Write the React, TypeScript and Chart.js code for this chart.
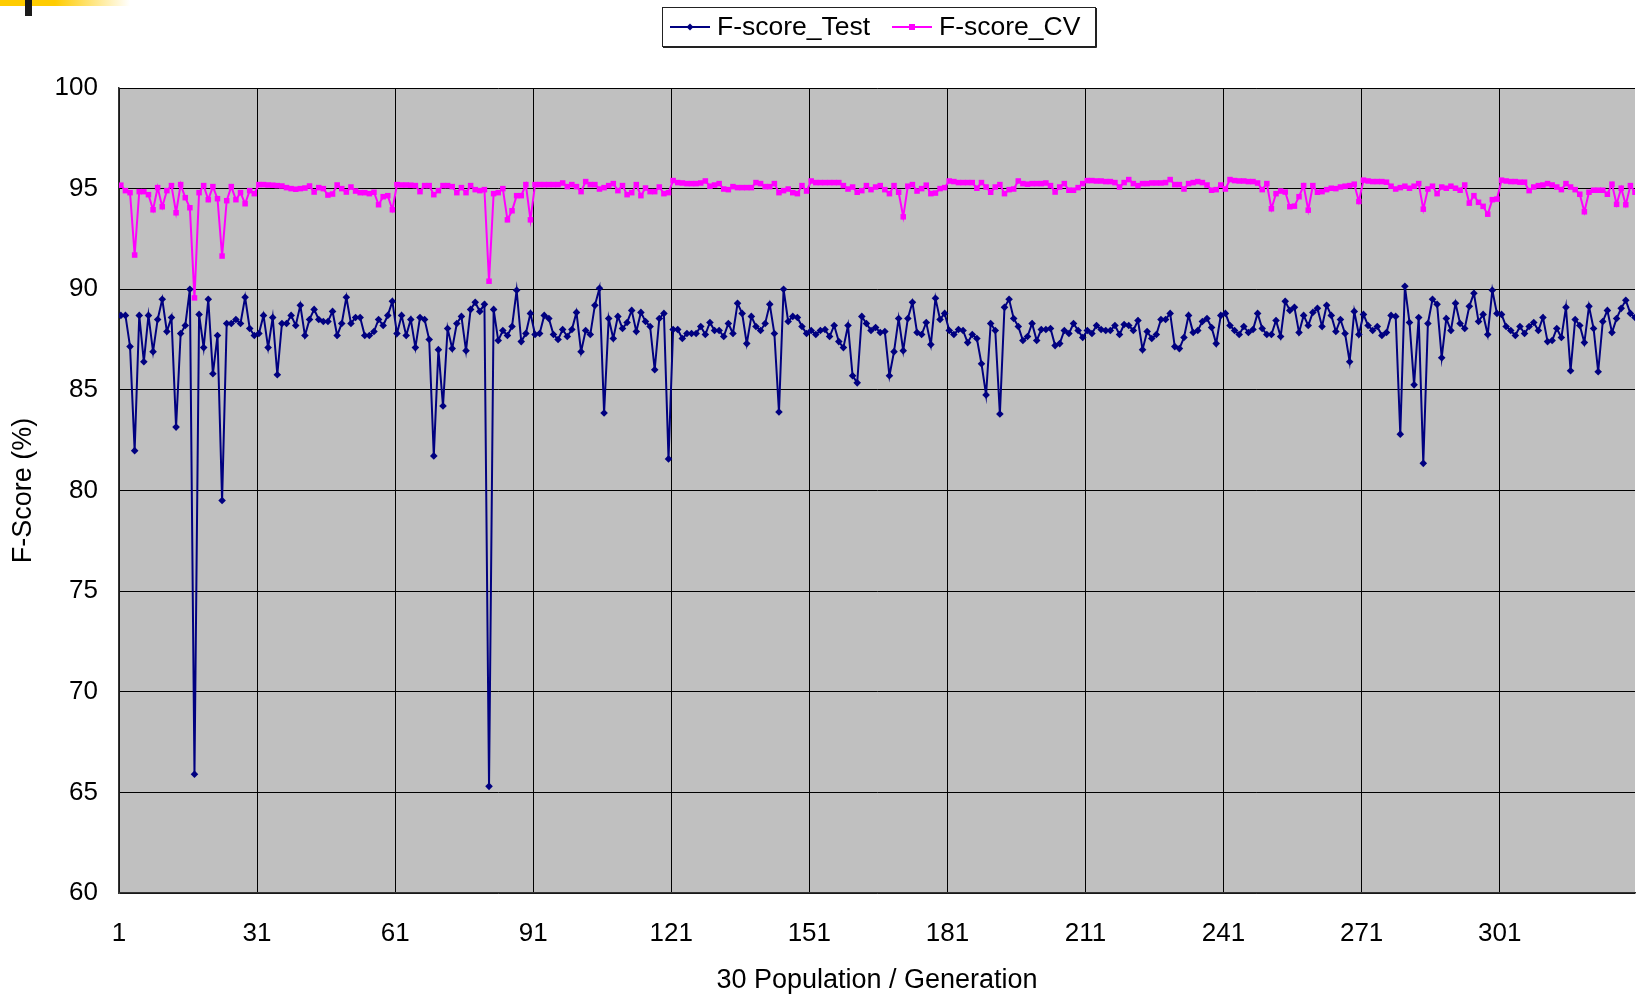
import { useEffect, useRef } from 'react';
import { Chart, registerables } from 'chart.js';

Chart.register(...registerables);

const FONT = '"Liberation Sans", Arial, Helvetica, sans-serif';

const seriesNames = ['F-score_Test', 'F-score_CV'];
const xTickValues = [1, 31, 61, 91, 121, 151, 181, 211, 241, 271, 301];
const yTickValues = [60, 65, 70, 75, 80, 85, 90, 95, 100];
const xTitle = '30 Population / Generation';
const yTitle = 'F-Score (%)';

const fScoreTest = [
  88.7, 88.7, 87.15, 81.98, 88.7, 86.4, 88.7, 86.9, 88.5, 89.5,
  87.9, 88.6, 83.15, 87.8, 88.2, 90.0, 65.9, 88.75, 87.1, 89.5,
  85.8, 87.7, 79.5, 88.3, 88.3, 88.5, 88.3, 89.6, 88.05, 87.7,
  87.8, 88.7, 87.1, 88.6, 85.75, 88.3, 88.3, 88.7, 88.2, 89.2,
  87.7, 88.5, 89.0, 88.5, 88.4, 88.4, 88.9, 87.7, 88.3, 89.6,
  88.3, 88.6, 88.6, 87.7, 87.7, 87.9, 88.5, 88.2, 88.7, 89.4,
  87.8, 88.7, 87.7, 88.5, 87.1, 88.6, 88.5, 87.5, 81.72, 87.0,
  84.2, 88.05, 87.05, 88.3, 88.65, 86.95, 89.0, 89.35, 88.9, 89.25,
  65.3, 89.0, 87.45, 87.95, 87.7, 88.15, 89.95, 87.4, 87.8, 88.8,
  87.75, 87.8, 88.7, 88.55, 87.75, 87.5, 88.0, 87.65, 88.0, 88.85,
  86.9, 87.95, 87.75, 89.2, 90.05, 83.85, 88.55, 87.55, 88.65, 88.05,
  88.35, 88.95, 87.9, 88.85, 88.4, 88.15, 86.0, 88.55, 88.8, 81.57,
  88.0, 88.0, 87.55, 87.8, 87.8, 87.8, 88.15, 87.75, 88.35, 87.95,
  87.95, 87.65, 88.3, 87.8, 89.3, 88.8, 87.3, 88.65, 88.15, 87.95,
  88.3, 89.25, 87.8, 83.9, 90.0, 88.4, 88.65, 88.6, 88.15, 87.8,
  87.95, 87.75, 87.95, 88.0, 87.65, 88.2, 87.4, 87.1, 88.2, 85.7,
  85.35, 88.65, 88.3, 87.95, 88.1, 87.85, 87.9, 85.7, 86.9, 88.55,
  86.95, 88.55, 89.35, 87.85, 87.75, 88.35, 87.25, 89.55, 88.5, 88.8,
  87.95, 87.75, 88.0, 87.95, 87.35, 87.75, 87.55, 86.3, 84.75, 88.3,
  87.95, 83.8, 89.1, 89.5, 88.55, 88.15, 87.45, 87.65, 88.3, 87.45,
  88.0, 88.0, 88.05, 87.2, 87.3, 87.95, 87.8, 88.3, 87.95, 87.6,
  87.95, 87.8, 88.2, 88.0, 87.95, 87.95, 88.2, 87.75, 88.25, 88.2,
  87.95, 88.45, 87.0, 87.9, 87.55, 87.75, 88.5, 88.5, 88.8, 87.15,
  87.05, 87.6, 88.7, 87.85, 87.95, 88.4, 88.55, 88.1, 87.3, 88.7,
  88.8, 88.2, 87.95, 87.75, 88.15, 87.85, 88.0, 88.8, 88.05, 87.75,
  87.75, 88.45, 87.65, 89.4, 88.95, 89.1, 87.85, 88.7, 88.2, 88.85,
  89.05, 88.15, 89.2, 88.7, 87.9, 88.5, 87.8, 86.4, 88.9, 87.75,
  88.75, 88.2, 87.95, 88.15, 87.7, 87.85, 88.7, 88.65, 82.8, 90.15,
  88.35, 85.25, 88.6, 81.35, 88.3, 89.5, 89.25, 86.6, 88.55, 87.95,
  89.3, 88.3, 88.05, 89.15, 89.8, 88.4, 88.75, 87.75, 89.95, 88.8,
  88.75, 88.15, 87.95, 87.7, 88.15, 87.8, 88.15, 88.35, 87.95, 88.6,
  87.4, 87.45, 88.05, 87.6, 89.1, 85.95, 88.5, 88.2, 87.35, 89.15,
  88.05, 85.9, 88.4, 88.95, 87.85, 88.55, 89.05, 89.45, 88.8, 88.6,
];

const fScoreCV = [
  95.17, 94.9, 94.8, 91.7, 94.85, 94.85, 94.7, 93.95, 95.05, 94.1,
  94.9, 95.15, 93.8, 95.2, 94.55, 94.05, 89.57, 94.8, 95.15, 94.45,
  95.1, 94.5, 91.65, 94.4, 95.1, 94.45, 94.8, 94.25, 94.9, 94.75,
  95.2, 95.2, 95.18, 95.17, 95.15, 95.13, 95.05, 95.0, 94.97, 95.0,
  95.03, 95.13, 94.83, 95.05, 95.0, 94.68, 94.73, 95.18, 95.0, 94.83,
  95.08, 94.88, 94.8, 94.8, 94.75, 94.82, 94.2, 94.6, 94.65, 93.95,
  95.2, 95.18, 95.18, 95.17, 95.15, 94.85, 95.15, 95.15, 94.7, 94.9,
  95.15, 95.15, 95.1, 94.8, 95.05, 94.8, 95.15, 94.95, 94.9, 94.95,
  90.4, 94.75, 94.8, 95.0, 93.45, 93.9, 94.65, 94.65, 95.2, 93.45,
  95.2, 95.2, 95.2, 95.2, 95.2, 95.2, 95.28, 95.1, 95.2, 95.1,
  94.85, 95.35, 95.2, 95.2, 94.98, 95.05, 95.15, 95.25, 94.9, 95.15,
  94.7, 94.8, 95.2, 94.65, 95.03, 94.85, 94.85, 95.08, 94.75, 94.8,
  95.4, 95.3, 95.28, 95.25, 95.25, 95.25, 95.28, 95.38, 95.12, 95.18,
  95.25, 94.98, 94.95, 95.1, 95.05, 95.05, 95.05, 95.05, 95.3, 95.25,
  95.1, 95.1, 95.25, 94.8, 94.9, 94.98, 94.8, 94.75, 95.15, 94.88,
  95.38, 95.3, 95.3, 95.3, 95.3, 95.3, 95.3, 95.15, 94.98, 95.08,
  94.82, 94.9, 95.15, 94.95, 95.08, 95.15, 94.95, 94.75, 95.15, 94.82,
  93.6, 95.12, 95.2, 94.88, 95.0, 95.17, 94.75, 94.78, 95.0, 95.05,
  95.38, 95.35, 95.3, 95.3, 95.3, 95.3, 95.02, 95.3, 95.08, 94.82,
  95.08, 95.2, 94.75, 94.95, 94.98, 95.38, 95.25, 95.22, 95.25, 95.25,
  95.25, 95.28, 95.15, 94.83, 95.08, 95.25, 94.92, 94.92, 95.05, 95.25,
  95.4, 95.4, 95.38, 95.38, 95.35, 95.35, 95.3, 95.08, 95.3, 95.45,
  95.25, 95.15, 95.25, 95.25, 95.28, 95.28, 95.28, 95.3, 95.45, 95.2,
  95.2, 94.98, 95.25, 95.3, 95.35, 95.3, 95.18, 94.92, 94.95, 95.18,
  94.98, 95.45, 95.4, 95.38, 95.38, 95.35, 95.35, 95.28, 94.95, 95.25,
  94.0, 94.75, 94.88, 94.83, 94.1, 94.13, 94.6, 95.15, 93.93, 95.15,
  94.82, 94.85, 94.95, 95.02, 95.0, 95.08, 95.12, 95.15, 95.22, 94.36,
  95.42, 95.38, 95.35, 95.35, 95.35, 95.32, 95.12, 94.98, 95.05, 95.12,
  95.02, 95.12, 95.25, 93.98, 94.98, 95.12, 94.75, 95.08, 95.02, 95.12,
  95.02, 94.92, 95.18, 94.28, 94.65, 94.32, 94.12, 93.73, 94.45, 94.48,
  95.42, 95.38, 95.35, 95.35, 95.32, 95.32, 94.9, 95.08, 95.15, 95.18,
  95.25, 95.18, 95.08, 94.95, 95.25, 95.08, 94.95, 94.72, 93.85, 94.82,
  94.92, 94.92, 94.92, 94.72, 95.22, 94.22, 95.02, 94.2, 95.15, 94.82,
];

const generations = fScoreTest.map((_, i) => i + 1);

const TEST_COLOR = '#000080';
const CV_COLOR = '#FF00FF';
// gridlines/labels sit slightly before each labelled generation (category boundary)
const TICK_SHIFT = 0.4;

export default function App() {
  const canvasRef = useRef<HTMLCanvasElement | null>(null);

  useEffect(() => {
    const canvas = canvasRef.current;
    if (!canvas) return;

    const plotBg = {
      id: 'plotBg',
      beforeDraw(chart: any) {
        const { ctx, chartArea: a } = chart;
        ctx.save();
        ctx.fillStyle = '#C0C0C0';
        ctx.fillRect(a.left, a.top, a.right - a.left, a.bottom - a.top);
        ctx.restore();
      },
    };

    const boxLegend = {
      id: 'boxLegend',
      afterDraw(chart: any) {
        const ctx = chart.ctx as CanvasRenderingContext2D;
        ctx.save();
        const bx = 662, by = 7, bw = 433, bh = 39;
        ctx.fillStyle = '#FFFFFF';
        ctx.fillRect(bx, by, bw, bh);
        ctx.strokeStyle = '#222';
        ctx.lineWidth = 1;
        ctx.strokeRect(bx + 0.5, by + 0.5, bw, bh);
        ctx.beginPath();
        ctx.moveTo(bx + 1, by + bh + 1.5);
        ctx.lineTo(bx + bw + 1.5, by + bh + 1.5);
        ctx.lineTo(bx + bw + 1.5, by + 1);
        ctx.stroke();
        const cy = 27;
        const items = [
          { name: seriesNames[0], color: TEST_COLOR, x0: 670, x1: 710, tx: 717, shape: 'diamond' },
          { name: seriesNames[1], color: CV_COLOR, x0: 892, x1: 932, tx: 939, shape: 'square' },
        ];
        ctx.font = `26.5px ${FONT}`;
        ctx.textBaseline = 'middle';
        ctx.textAlign = 'left';
        for (const it of items) {
          ctx.strokeStyle = it.color;
          ctx.lineWidth = 2;
          ctx.beginPath();
          ctx.moveTo(it.x0, cy);
          ctx.lineTo(it.x1, cy);
          ctx.stroke();
          ctx.fillStyle = it.color;
          const mx = (it.x0 + it.x1) / 2;
          if (it.shape === 'diamond') {
            ctx.beginPath();
            ctx.moveTo(mx, cy - 3.5);
            ctx.lineTo(mx + 3.5, cy);
            ctx.lineTo(mx, cy + 3.5);
            ctx.lineTo(mx - 3.5, cy);
            ctx.closePath();
            ctx.fill();
          } else {
            ctx.fillRect(mx - 3, cy - 3, 6, 6);
          }
          ctx.fillStyle = '#000';
          ctx.fillText(it.name, it.tx, cy + 1);
        }
        ctx.restore();
      },
    };

    const chart = new Chart(canvas, {
      type: 'line',
      data: {
        datasets: [
          {
            label: seriesNames[0],
            data: generations.map((g, i) => ({ x: g, y: fScoreTest[i] })),
            borderColor: TEST_COLOR,
            backgroundColor: TEST_COLOR,
            borderWidth: 2,
            pointStyle: 'rectRot',
            pointRadius: 3.8,
            pointBorderWidth: 0,
            pointBackgroundColor: TEST_COLOR,
            tension: 0,
          },
          {
            label: seriesNames[1],
            data: generations.map((g, i) => ({ x: g, y: fScoreCV[i] })),
            borderColor: CV_COLOR,
            backgroundColor: CV_COLOR,
            borderWidth: 2,
            pointStyle: 'rect',
            pointRadius: 3.9,
            pointBorderWidth: 0,
            pointBackgroundColor: CV_COLOR,
            tension: 0,
          },
        ],
      },
      options: {
        animation: false,
        responsive: true,
        maintainAspectRatio: false,
        events: [],
        layout: { padding: { top: 88, right: 1, left: 0, bottom: 0 } },
        plugins: {
          legend: { display: false },
          tooltip: { enabled: false },
        },
        scales: {
          x: {
            type: 'linear',
            min: 1 - TICK_SHIFT,
            max: 330.4 - TICK_SHIFT,
            afterBuildTicks: (scale: any) => {
              scale.ticks = xTickValues.map((v) => ({ value: v - TICK_SHIFT }));
            },
            afterFit: (scale: any) => {
              scale.height = 102;
            },
            ticks: {
              autoSkip: false,
              maxRotation: 0,
              minRotation: 0,
              padding: 25,
              color: '#000',
              font: { family: FONT, size: 26 },
              callback: (_v: any, index: number) => String(xTickValues[index]),
            },
            grid: { color: '#000', lineWidth: 1, drawTicks: false },
            border: { color: '#333', width: 1.5 },
            title: {
              display: true,
              text: xTitle,
              color: '#000',
              font: { family: FONT, size: 27 },
              padding: { top: 0, bottom: -2 },
            },
          },
          y: {
            type: 'linear',
            min: 60,
            max: 100,
            afterBuildTicks: (scale: any) => {
              scale.ticks = yTickValues.map((v) => ({ value: v }));
            },
            afterFit: (scale: any) => {
              scale.width = 119;
            },
            ticks: {
              padding: 21,
              color: '#000',
              font: { family: FONT, size: 26 },
              callback: (v: any) => String(v),
            },
            grid: { color: '#000', lineWidth: 1, drawTicks: false },
            border: { color: '#333', width: 1.5 },
            title: {
              display: true,
              text: yTitle,
              color: '#000',
              font: { family: FONT, size: 27 },
              padding: { top: 7, bottom: 0 },
            },
          },
        },
      },
      plugins: [plotBg, boxLegend],
    } as any);

    return () => chart.destroy();
  }, []);

  return (
    <div style={{ position: 'absolute', left: 0, top: 0, width: 1639, height: 995, background: '#fff' }}>
      <canvas ref={canvasRef} />
      <div
        style={{
          position: 'absolute',
          left: 0,
          top: 0,
          width: 130,
          height: 6,
          background: 'linear-gradient(to right, #FFCC00 0px, #FFCC00 55px, rgba(255,255,255,1) 130px)',
        }}
      />
      <div style={{ position: 'absolute', left: 25, top: 0, width: 7, height: 16, background: '#1a1a1a' }} />
    </div>
  );
}
